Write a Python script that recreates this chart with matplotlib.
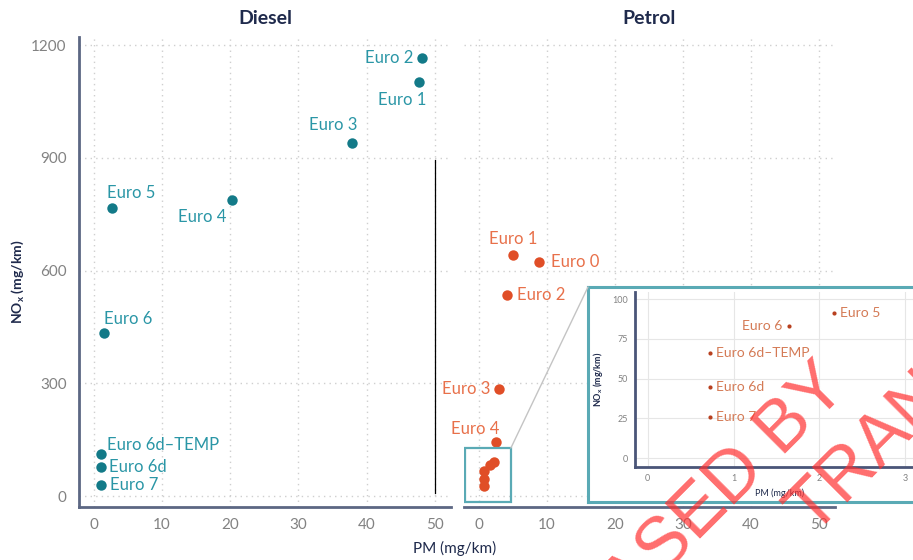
import matplotlib
matplotlib.use("Agg")
import matplotlib.pyplot as plt
from matplotlib.patches import Rectangle, ConnectionPatch

plt.rcParams['font.family'] = ['Lato', 'DejaVu Sans']
plt.rcParams['mathtext.fontset'] = 'custom'
plt.rcParams['mathtext.rm'] = 'Lato'
plt.rcParams['mathtext.bf'] = 'Lato:bold'

# ---- data -------------------------------------------------------------
diesel_labels = ["Euro 1", "Euro 2", "Euro 3", "Euro 4", "Euro 5",
                 "Euro 6", "Euro 6d–TEMP", "Euro 6d", "Euro 7"]
diesel_pm = [47.7, 48.2, 37.9, 20.3, 2.6, 1.4, 1.0, 1.0, 1.0]
diesel_nox = [1103, 1165, 941, 787, 766, 434, 112, 78, 29]

petrol_labels = ["Euro 0", "Euro 1", "Euro 2", "Euro 3", "Euro 4",
                 "Euro 5", "Euro 6", "Euro 6d–TEMP", "Euro 6d", "Euro 7"]
petrol_pm = [8.8, 5.0, 4.2, 2.95, 2.45, 2.17, 1.65, 0.72, 0.72, 0.72]
petrol_nox = [622, 643, 536, 284, 144, 91, 83, 66, 45, 26]

x_ticks = [0, 10, 20, 30, 40, 50]
y_ticks = [0, 300, 600, 900, 1200]
inset_x_ticks = [0, 1, 2, 3]
inset_y_ticks = [0, 25, 50, 75, 100]

# ---- label placement (offset in pixels: right, down) and alignment -----
diesel_offsets = [(7, 18, 'right'), (-9, 0, 'right'), (5, -18, 'right'),
                  (-6, 17, 'right'), (-5, -15, 'left'), (0, -14, 'left'),
                  (6, -9, 'left'), (8, 0, 'left'), (9, 0, 'left')]
petrol_offsets = [(12, 0, 'left'), (0, -16, 'center'), (10, 0, 'left'),
                  (-9, 0, 'right'), (4, -13, 'right')]
inset_offsets = [(6, 0, 'left'), (-7, 0, 'right'), (6, 0, 'left'),
                 (6, 0, 'left'), (6, 0, 'left')]

# ---- styles -----------------------------------------------------------
DIESEL = '#137a88'
DIESEL_TXT = '#2a96a6'
PETROL = '#e04e27'
PETROL_TXT = '#e8704a'
INSET_DOT = '#b8401f'
INSET_TXT = '#d47a55'
NAVY = '#1f2a4c'
SPINE = '#5c6783'
TICK = '#828282'
GRID = '#cfcfcf'
BOX = '#5aaab5'

W, H = 913, 560
fig = plt.figure(figsize=(W / 100, H / 100), dpi=100)


def px_rect(x0, y0, x1, y1):
    """Axes rectangle from pixel edges (y measured from the top)."""
    return [x0 / W, 1 - y1 / H, (x1 - x0) / W, (y1 - y0) / H]


XLIM = (-2.2, 52.4)
YLIM = (-29, 1222)

ax_d = fig.add_axes(px_rect(79, 37, 451, 507))
ax_p = fig.add_axes(px_rect(464, 37, 835, 507))

for ax in (ax_d, ax_p):
    ax.set_xlim(*XLIM)
    ax.set_ylim(*YLIM)
    ax.set_xticks(x_ticks)
    ax.set_yticks(y_ticks)
    ax.grid(True, color=GRID, linestyle=(0, (1, 3)), linewidth=1.0)
    ax.set_axisbelow(True)
    for s in ('top', 'right'):
        ax.spines[s].set_visible(False)
    ax.spines['bottom'].set_color(SPINE)
    ax.spines['bottom'].set_linewidth(2)
    ax.spines['left'].set_color(SPINE)
    ax.spines['left'].set_linewidth(2)
    ax.tick_params(length=0, labelsize=11, labelcolor=TICK)
    ax.tick_params(axis='x', pad=8)
    ax.tick_params(axis='y', pad=9)

ax_p.spines['left'].set_visible(False)
ax_p.tick_params(axis='y', labelleft=False)

ax_d.set_title("Diesel", fontsize=14, fontweight='bold', color=NAVY, pad=9)
ax_p.set_title("Petrol", fontsize=14, fontweight='bold', color=NAVY, pad=9)

# stray vertical rule at the right of the diesel panel
ax_d.axvline(x_ticks[-1], ymin=0.03, ymax=0.738, color='black', lw=0.9, zorder=1)

# diesel points
ax_d.plot(diesel_pm, diesel_nox, 'o', color=DIESEL, ms=7.5, mew=0, zorder=3)
for lab, x, y, (dx, dy, ha) in zip(diesel_labels, diesel_pm, diesel_nox, diesel_offsets):
    ax_d.annotate(lab, (x, y), xytext=(dx, -dy), textcoords='offset pixels',
                  ha=ha, va='center', fontsize=12, color=DIESEL_TXT)

# petrol points
ax_p.plot(petrol_pm, petrol_nox, 'o', color=PETROL, ms=7.5, mew=0, zorder=3)
for lab, x, y, (dx, dy, ha) in zip(petrol_labels[:5], petrol_pm[:5],
                                   petrol_nox[:5], petrol_offsets):
    ax_p.annotate(lab, (x, y), xytext=(dx, -dy), textcoords='offset pixels',
                  ha=ha, va='center', fontsize=12, color=PETROL_TXT)

# zoom region marker in the petrol panel
zoom_x0, zoom_x1, zoom_y0, zoom_y1 = -2.05, 4.7, -16, 128
ax_p.add_patch(Rectangle((zoom_x0, zoom_y0), zoom_x1 - zoom_x0, zoom_y1 - zoom_y0,
                         fill=False, edgecolor=BOX, lw=1.6, zorder=4))

fig.text(455 / W, 1 - 548 / H, "PM (mg/km)", ha='center', va='center',
         fontsize=11, color=NAVY)
fig.text(18 / W, 1 - 282 / H, r"$\mathbf{NO_x}$ (mg/km)", ha='center', va='center',
         rotation=90, fontsize=10, fontweight='bold', color=NAVY)

# ---- inset -------------------------------------------------------------
box = fig.add_axes(px_rect(588, 287, 925, 502))
box.set_xticks([])
box.set_yticks([])
box.set_facecolor('white')
for s in box.spines.values():
    s.set_color(BOX)
    s.set_linewidth(2.2)

ins = fig.add_axes(px_rect(635, 292, 925, 467))
ins.set_xlim(-0.15, 3.23)
ins.set_ylim(-5.5, 104.5)
ins.set_xticks(inset_x_ticks)
ins.set_yticks(inset_y_ticks)
ins.set_facecolor('none')
ins.grid(True, color='#e6e6e6', lw=0.8)
ins.set_axisbelow(True)
for s in ('top', 'right'):
    ins.spines[s].set_visible(False)
for s in ('left', 'bottom'):
    ins.spines[s].set_color('#4a5578')
    ins.spines[s].set_linewidth(2)
ins.tick_params(length=0, labelsize=6.5, labelcolor=TICK, pad=5)
ins.set_xlabel("PM (mg/km)", fontsize=6.5, color=NAVY, labelpad=4)
ins.set_ylabel(r"$\mathbf{NO_x}$ (mg/km)", fontsize=6.5, fontweight='bold',
               color=NAVY, labelpad=5)

ins.plot(petrol_pm[5:], petrol_nox[5:], 'o', color=INSET_DOT, ms=3, mew=0, zorder=3)
for lab, x, y, (dx, dy, ha) in zip(petrol_labels[5:], petrol_pm[5:],
                                   petrol_nox[5:], inset_offsets):
    ins.annotate(lab, (x, y), xytext=(dx, -dy), textcoords='offset pixels',
                 ha=ha, va='center', fontsize=10, color=INSET_TXT)

con = ConnectionPatch(xyA=(zoom_x1, zoom_y1), coordsA=ax_p.transData,
                      xyB=(0, 1), coordsB=box.transAxes,
                      color='#c4c4c4', lw=1.0, zorder=5)
fig.add_artist(con)

# ---- release stamp -----------------------------------------------------
stamp = dict(fontsize=52, color='#ff2f2f', alpha=0.7, rotation=45,
             rotation_mode='anchor', family='Liberation Sans', zorder=20)
fig.text(849 / W, 1 - 389 / H, "RELEASED BY", ha='right', va='baseline', **stamp)
fig.text(812 / W, 1 - 536 / H, "TRANSPORT", ha='left', va='baseline', **stamp)

fig.savefig("out.png", dpi=100)
